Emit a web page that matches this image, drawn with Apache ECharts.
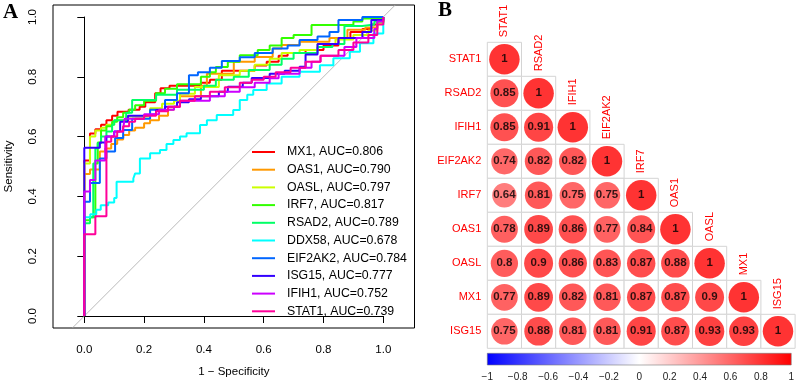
<!DOCTYPE html>
<html>
<head>
<meta charset="utf-8">
<script src="https://cdn.jsdelivr.net/npm/echarts@6/dist/echarts.min.js"></script>
<style>
  html, body { margin: 0; padding: 0; background: #fff; }
  #main { width: 797px; height: 383px; }
</style>
</head>
<body>
<div id="main"></div>
<script>
// ROC panel (A): one staircase per gene, [1 - specificity, sensitivity] at each step corner
var rocGenes = ['MX1', 'OAS1', 'OASL', 'IRF7', 'RSAD2', 'DDX58', 'EIF2AK2', 'ISG15', 'IFIH1', 'STAT1'];
var rocAuc = [0.806, 0.790, 0.797, 0.817, 0.789, 0.678, 0.784, 0.777, 0.752, 0.739];

var rocMX1 = [[0,0],[0,0.52],[0.019,0.61],[0.037,0.625],[0.056,0.64],[0.074,0.655],[0.093,0.67],[0.111,0.683],[0.148,0.69],[0.185,0.70],[0.204,0.715],[0.237,0.745],[0.255,0.762],[0.285,0.77],[0.39,0.78],[0.42,0.79],[0.46,0.82],[0.57,0.838],[0.61,0.85],[0.65,0.87],[0.68,0.88],[0.74,0.89],[0.80,0.905],[0.85,0.93],[0.89,0.95],[0.93,0.96],[0.96,0.975],[0.98,0.985],[1,1]];
var rocOAS1 = [[0,0],[0,0.475],[0.019,0.49],[0.052,0.55],[0.07,0.56],[0.09,0.575],[0.11,0.59],[0.13,0.605],[0.15,0.62],[0.17,0.63],[0.2,0.645],[0.22,0.655],[0.25,0.67],[0.28,0.69],[0.3,0.70],[0.32,0.735],[0.39,0.77],[0.41,0.81],[0.5,0.85],[0.57,0.866],[0.63,0.895],[0.66,0.906],[0.72,0.917],[0.82,0.93],[0.88,0.957],[0.94,0.965],[0.98,0.98],[1,1]];
var rocOASL = [[0,0],[0,0.51],[0.019,0.60],[0.037,0.62],[0.056,0.63],[0.074,0.64],[0.1,0.655],[0.14,0.667],[0.22,0.695],[0.26,0.71],[0.3,0.72],[0.32,0.743],[0.37,0.766],[0.45,0.805],[0.52,0.82],[0.57,0.84],[0.62,0.86],[0.66,0.88],[0.72,0.89],[0.78,0.91],[0.84,0.925],[0.9,0.94],[0.95,0.955],[0.98,0.98],[1,1]];
var rocIRF7 = [[0,0],[0,0.32],[0.019,0.33],[0.037,0.51],[0.045,0.58],[0.056,0.62],[0.074,0.635],[0.093,0.65],[0.11,0.665],[0.13,0.68],[0.15,0.69],[0.17,0.705],[0.20,0.72],[0.24,0.745],[0.27,0.76],[0.31,0.775],[0.39,0.80],[0.42,0.815],[0.44,0.833],[0.48,0.85],[0.52,0.872],[0.58,0.89],[0.62,0.905],[0.66,0.93],[0.70,0.94],[0.76,0.973],[0.90,0.985],[0.93,0.995],[1,1]];
var rocRSAD2 = [[0,0],[0,0.31],[0.019,0.33],[0.03,0.51],[0.037,0.56],[0.045,0.578],[0.056,0.60],[0.074,0.617],[0.093,0.64],[0.1,0.655],[0.14,0.68],[0.16,0.722],[0.24,0.74],[0.31,0.757],[0.40,0.77],[0.44,0.79],[0.50,0.80],[0.55,0.823],[0.62,0.84],[0.66,0.86],[0.70,0.88],[0.78,0.90],[0.83,0.91],[0.87,0.97],[0.93,0.975],[0.97,0.985],[1,1]];
var rocDDX58 = [[0,0],[0,0.33],[0.02,0.34],[0.04,0.355],[0.055,0.37],[0.08,0.38],[0.1,0.395],[0.108,0.449],[0.164,0.46],[0.17,0.477],[0.186,0.527],[0.22,0.544],[0.253,0.555],[0.275,0.575],[0.298,0.589],[0.32,0.60],[0.342,0.611],[0.387,0.639],[0.41,0.655],[0.443,0.672],[0.498,0.689],[0.52,0.722],[0.545,0.74],[0.565,0.756],[0.61,0.778],[0.66,0.80],[0.72,0.817],[0.788,0.839],[0.833,0.862],[0.888,0.884],[0.922,0.912],[0.967,0.945],[1,1]];
var rocEIF2AK2 = [[0,0],[0,0.382],[0.019,0.445],[0.052,0.527],[0.074,0.55],[0.103,0.595],[0.13,0.622],[0.16,0.66],[0.22,0.69],[0.27,0.722],[0.31,0.745],[0.35,0.805],[0.38,0.815],[0.42,0.83],[0.46,0.853],[0.52,0.865],[0.57,0.88],[0.63,0.895],[0.68,0.905],[0.72,0.923],[0.78,0.935],[0.82,0.95],[0.85,0.99],[0.93,1],[1,1]];
var rocISG15 = [[0,0],[0,0.563],[0.052,0.58],[0.074,0.60],[0.1,0.617],[0.12,0.65],[0.146,0.67],[0.2,0.675],[0.24,0.689],[0.27,0.70],[0.31,0.715],[0.35,0.725],[0.39,0.735],[0.45,0.75],[0.48,0.767],[0.53,0.78],[0.56,0.796],[0.62,0.81],[0.67,0.82],[0.72,0.834],[0.74,0.875],[0.78,0.91],[0.85,0.93],[0.93,0.95],[0.96,0.99],[1,1]];
var rocIFIH1 = [[0,0],[0,0.416],[0.019,0.455],[0.037,0.52],[0.07,0.60],[0.1,0.617],[0.13,0.628],[0.135,0.66],[0.2,0.675],[0.25,0.69],[0.3,0.70],[0.32,0.72],[0.42,0.735],[0.47,0.75],[0.52,0.765],[0.57,0.78],[0.62,0.795],[0.65,0.81],[0.72,0.83],[0.76,0.85],[0.79,0.87],[0.87,0.90],[0.91,0.93],[0.97,0.96],[0.98,0.985],[1,1]];
var rocSTAT1 = [[0,0],[0,0.273],[0.037,0.334],[0.074,0.583],[0.09,0.60],[0.11,0.617],[0.13,0.635],[0.15,0.65],[0.17,0.66],[0.2,0.67],[0.24,0.685],[0.28,0.70],[0.32,0.72],[0.37,0.735],[0.42,0.75],[0.47,0.765],[0.52,0.78],[0.56,0.79],[0.6,0.80],[0.64,0.815],[0.69,0.83],[0.74,0.85],[0.79,0.87],[0.85,0.89],[0.9,0.915],[0.95,0.94],[0.98,0.975],[1,1]];

var rocCurves = [rocMX1, rocOAS1, rocOASL, rocIRF7, rocRSAD2, rocDDX58, rocEIF2AK2, rocISG15, rocIFIH1, rocSTAT1];
var chanceLine = [[-0.04, -0.04], [1.04, 1.04]];

// correlation panel (B): lower triangle, row by row
var corrGenes = ['STAT1', 'RSAD2', 'IFIH1', 'EIF2AK2', 'IRF7', 'OAS1', 'OASL', 'MX1', 'ISG15'];
var corrRows = [
    [1],
    [0.85, 1],
    [0.85, 0.91, 1],
    [0.74, 0.82, 0.82, 1],
    [0.64, 0.81, 0.75, 0.75, 1],
    [0.78, 0.89, 0.86, 0.77, 0.84, 1],
    [0.8, 0.9, 0.86, 0.83, 0.87, 0.88, 1],
    [0.77, 0.89, 0.82, 0.81, 0.87, 0.87, 0.9, 1],
    [0.75, 0.88, 0.81, 0.81, 0.91, 0.87, 0.93, 0.93, 1]
];

// styles
var rocColors = ['#FF0000', '#FF9900', '#CCFF00', '#33FF00', '#00FF66', '#00FFFF', '#0066FF', '#3300FF', '#CC00FF', '#FF0099'];
var sansFont = '"Liberation Sans", Arial, sans-serif';

var myChart = echarts.init(document.getElementById('main'), null, { renderer: 'canvas' });

var corrCells = [];
var diagLabels = [];
corrRows.forEach(function (row, i) {
    row.forEach(function (v, j) {
        corrCells.push([j, i, v]);
    });
    diagLabels.push([i, i]);
});

function fmtTick(v) {
    var s = (Math.round(v * 10) / 10).toFixed(1);
    return s;
}

var rocSeries = rocCurves.map(function (pts, k) {
    return {
        type: 'line',
        name: rocGenes[k] + ', AUC=' + rocAuc[k].toFixed(3),
        xAxisIndex: 1,
        yAxisIndex: 1,
        data: pts,
        step: 'end',
        showSymbol: false,
        clip: false,
        silent: true,
        color: rocColors[k],
        lineStyle: { width: 2, color: rocColors[k] }
    };
});

var option = {
    animation: false,
    title: [
        { text: 'A', left: 3, top: 2, padding: 0,
          textStyle: { fontFamily: '"Liberation Serif", "Times New Roman", serif', fontWeight: 'bold', fontSize: 21, color: '#000' } },
        { text: 'B', left: 438, top: 0, padding: 0,
          textStyle: { fontFamily: '"Liberation Serif", "Times New Roman", serif', fontWeight: 'bold', fontSize: 21, color: '#000' } }
    ],
    legend: {
        data: rocSeries.map(function (s) { return s.name; }),
        orient: 'vertical',
        left: 252,
        top: 145,
        padding: 0,
        icon: 'rect',
        itemWidth: 23,
        itemHeight: 2,
        itemGap: 3.7,
        selectedMode: false,
        textStyle: { fontFamily: sansFont, fontSize: 12.3, lineHeight: 14, color: '#000', padding: [0, 0, 0, 7] }
    },
    grid: [
        // frame box of the ROC plot
        { left: 53, top: 5, width: 361.5, height: 323, show: true, borderColor: '#000', borderWidth: 1, backgroundColor: 'transparent' },
        // data area 0..1 of the ROC plot
        { left: 84.3, top: 17, width: 299, height: 299 },
        // correlation cells
        { left: 487.3, top: 42.3, width: 307.8, height: 306 },
        // colour bar
        { left: 487.3, top: 353.3, width: 306, height: 11.7 }
    ],
    visualMap: {
        show: false,
        type: 'continuous',
        min: -1,
        max: 1,
        dimension: 2,
        seriesIndex: rocCurves.length + 2,
        inRange: { color: ['#0000FF', '#FFFFFF', '#FF0000'] }
    },
    xAxis: [
        { gridIndex: 0, type: 'value', min: -0.1047, max: 1.1044, show: false },
        { gridIndex: 1, type: 'value', min: 0, max: 1, interval: 0.2, offset: 12,
          name: '1 \u2212 Specificity', nameLocation: 'middle', nameGap: 38,
          nameTextStyle: { fontFamily: sansFont, fontSize: 11.5, color: '#000' },
          axisLine: { show: true, lineStyle: { color: '#000', width: 1 } },
          axisTick: { show: true, length: 7, lineStyle: { color: '#000' } },
          axisLabel: { fontFamily: sansFont, fontSize: 11.5, color: '#000', margin: 16, formatter: fmtTick },
          splitLine: { show: false } },
        { gridIndex: 2, type: 'category', data: corrGenes, show: false },
        { gridIndex: 3, type: 'value', min: -1, max: 1, interval: 0.2,
          axisLine: { show: false }, axisTick: { show: false }, splitLine: { show: false },
          axisLabel: { fontFamily: sansFont, fontSize: 10, color: '#222', margin: 7,
              formatter: function (v) { return String(Math.round(v * 10) / 10).replace('-', '\u2212'); } } }
    ],
    yAxis: [
        { gridIndex: 0, type: 'value', min: -0.04, max: 1.04, show: false },
        { gridIndex: 1, type: 'value', min: 0, max: 1, interval: 0.2, offset: 31.3,
          name: 'Sensitivity', nameLocation: 'middle', nameGap: 38, nameRotate: 90,
          nameTextStyle: { fontFamily: sansFont, fontSize: 11.5, color: '#000' },
          axisLine: { show: true, lineStyle: { color: '#000', width: 1 } },
          axisTick: { show: true, length: 7, lineStyle: { color: '#000' } },
          axisLabel: { fontFamily: sansFont, fontSize: 11.5, color: '#000', margin: 14, rotate: 90, formatter: fmtTick },
          splitLine: { show: false } },
        { gridIndex: 2, type: 'category', data: corrGenes, inverse: true,
          axisLine: { show: false }, axisTick: { show: false }, splitLine: { show: false },
          axisLabel: { fontFamily: sansFont, fontSize: 11, color: '#FF0000', margin: 6 } },
        { gridIndex: 3, type: 'value', min: 0, max: 1, show: false }
    ],
    series: [
        {
            type: 'line',
            xAxisIndex: 0,
            yAxisIndex: 0,
            data: chanceLine,
            showSymbol: false,
            silent: true,
            clip: false,
            lineStyle: { width: 0.8, color: '#a8a8a8' }
        }
    ].concat(rocSeries).concat([
        {
            type: 'custom',
            xAxisIndex: 2,
            yAxisIndex: 2,
            data: corrCells,
            silent: true,
            renderItem: function (params, api) {
                var p = api.coord([api.value(0), api.value(1)]);
                var s = api.size([1, 1]);
                return {
                    type: 'rect',
                    shape: { x: p[0] - s[0] / 2, y: p[1] - s[1] / 2, width: s[0], height: s[1] },
                    style: { fill: '#fff', stroke: '#d4d4d4', lineWidth: 1 }
                };
            }
        },
        {
            type: 'scatter',
            xAxisIndex: 2,
            yAxisIndex: 2,
            data: corrCells,
            silent: true,
            symbol: 'circle',
            symbolSize: function (val) { return 30.5 * Math.sqrt(Math.abs(val[2])); },
            label: {
                show: true,
                position: 'inside',
                formatter: function (p) { return String(p.value[2]); },
                fontFamily: sansFont,
                fontWeight: 'bold',
                fontSize: 11.5,
                color: '#000'
            }
        },
        {
            type: 'custom',
            xAxisIndex: 2,
            yAxisIndex: 2,
            data: diagLabels,
            silent: true,
            clip: false,
            renderItem: function (params, api) {
                var p = api.coord([api.value(0), api.value(1)]);
                var s = api.size([1, 1]);
                return {
                    type: 'text',
                    x: p[0],
                    y: p[1] - s[1] / 2 - 5,
                    rotation: Math.PI / 2,
                    style: {
                        text: corrGenes[api.value(0)],
                        fill: '#FF0000',
                        fontFamily: sansFont,
                        fontSize: 11,
                        align: 'left',
                        verticalAlign: 'middle'
                    }
                };
            }
        },
        {
            type: 'custom',
            xAxisIndex: 3,
            yAxisIndex: 3,
            data: [[-1, 1]],
            silent: true,
            clip: false,
            renderItem: function (params, api) {
                var a = api.coord([api.value(0), 0]);
                var b = api.coord([api.value(1), 1]);
                return {
                    type: 'rect',
                    shape: { x: a[0], y: b[1], width: b[0] - a[0], height: a[1] - b[1] },
                    style: {
                        fill: new echarts.graphic.LinearGradient(0, 0, 1, 0, [
                            { offset: 0, color: '#0000FF' },
                            { offset: 0.5, color: '#FFFFFF' },
                            { offset: 1, color: '#FF0000' }
                        ]),
                        stroke: '#777',
                        lineWidth: 0.6
                    }
                };
            }
        }
    ])
};

myChart.setOption(option);
window.addEventListener('resize', myChart.resize);
</script>
</body>
</html>
